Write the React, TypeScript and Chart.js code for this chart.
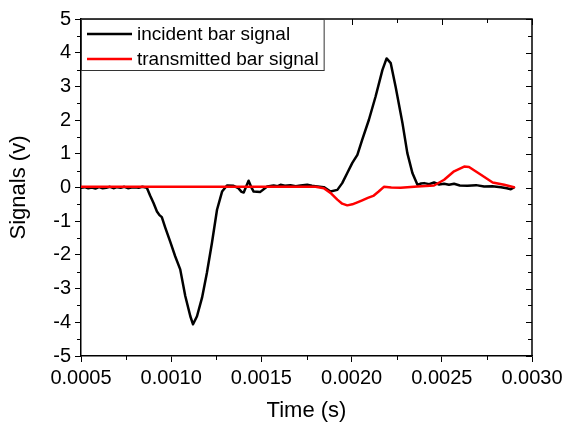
import { useEffect, useRef } from "react";
import { Chart, registerables } from "chart.js";

Chart.register(...registerables);

const FONT = "'Liberation Sans', Arial, Helvetica, sans-serif";

// Incident bar strain-gauge signal (time in s, signal in V)
const incidentTime = [
  0.0005, 0.00052, 0.00054, 0.00056, 0.00058, 0.0006, 0.00062, 0.00064, 0.00066, 0.00068,
  0.0007, 0.00072, 0.00074, 0.00076, 0.00078, 0.0008, 0.00082, 0.00084, 0.000865, 0.000883,
  0.000902, 0.000921, 0.000935, 0.000948, 0.000967, 0.000994, 0.001022, 0.00105, 0.001078, 0.001106,
  0.001121, 0.001143, 0.001171, 0.001198, 0.001226, 0.001254, 0.001282, 0.001309, 0.001346, 0.001372,
  0.00139, 0.001402, 0.001415, 0.001429, 0.001443, 0.001457, 0.001494, 0.001532, 0.001568, 0.00159,
  0.001606, 0.00163, 0.001661, 0.00169, 0.001717, 0.001754, 0.00178, 0.0018, 0.001846, 0.001883,
  0.001921, 0.001948, 0.001976, 0.002004, 0.002032, 0.002059, 0.002096, 0.002133, 0.002171, 0.002194,
  0.002217, 0.002244, 0.002282, 0.002309, 0.002337, 0.002365, 0.002385, 0.002402, 0.00243, 0.002457,
  0.002485, 0.002513, 0.00254, 0.002568, 0.0026, 0.002643, 0.00269, 0.002735, 0.00278, 0.002828,
  0.00286, 0.002883, 0.0029,
];
const incidentSignal = [
  -0.01, 0.01, -0.02, 0.0, -0.03, 0.01, -0.02, -0.01, 0.02, -0.02,
  0.01, -0.01, 0.02, -0.02, 0.0, 0.01, -0.01, 0.02, -0.01, -0.24,
  -0.46, -0.71, -0.82, -0.88, -1.19, -1.6, -2.04, -2.43, -3.22, -3.82,
  -4.06, -3.82, -3.27, -2.53, -1.64, -0.66, -0.12, 0.06, 0.05, -0.02,
  -0.13, -0.15, 0.02, 0.2, 0.02, -0.12, -0.13, 0.03, 0.06, 0.04,
  0.08, 0.05, 0.07, 0.04, 0.06, 0.08, 0.05, 0.04, 0.01, -0.12,
  -0.07, 0.13, 0.43, 0.73, 0.97, 1.42, 2.01, 2.7, 3.49, 3.83,
  3.69, 2.99, 1.91, 1.02, 0.43, 0.08, 0.12, 0.13, 0.1, 0.15,
  0.09, 0.11, 0.08, 0.11, 0.06, 0.05, 0.07, 0.03, 0.04, 0.01,
  -0.02, -0.05, 0.0,
];

// Transmitted bar strain-gauge signal
const transmittedTime = [
  0.0005, 0.0008, 0.0011, 0.0014, 0.0017, 0.0018, 0.001846, 0.001883, 0.001921, 0.001948,
  0.001976, 0.002004, 0.002032, 0.002059, 0.00209, 0.00212, 0.00215, 0.002179, 0.00222, 0.002272,
  0.002365, 0.002457, 0.002513, 0.002568, 0.002624, 0.002651, 0.002717, 0.002782, 0.002846, 0.0029,
];
const transmittedSignal = [
  0.02, 0.02, 0.02, 0.02, 0.02, 0.02, -0.02, -0.16, -0.36, -0.48,
  -0.53, -0.5, -0.44, -0.38, -0.31, -0.25, -0.12, 0.02, 0.0, -0.01,
  0.03, 0.06, 0.23, 0.48, 0.62, 0.61, 0.38, 0.15, 0.08, 0.01,
];

const xTicks = [0.0005, 0.001, 0.0015, 0.002, 0.0025, 0.003];
const yTicks = [-5, -4, -3, -2, -1, 0, 1, 2, 3, 4, 5];
const seriesNames = ["incident bar signal", "transmitted bar signal"];
const seriesColors = ["#000000", "#ff0000"];
const xTitle = "Time (s)";
const yTitle = "Signals (v)";

const toPoints = (xs: number[], ys: number[]) => xs.map((x, i) => ({ x, y: ys[i] }));

const midpoints = (vals: number[]) => vals.slice(1).map((v, i) => (v + vals[i]) / 2);

// Closed frame, mirrored/minor ticks and the inset legend
const framePlugin = {
  id: "frame",
  afterDraw(chart: any) {
    const { ctx, chartArea: a, scales } = chart;
    const xs = scales.x;
    const ys = scales.y;
    ctx.save();
    ctx.strokeStyle = "#000";
    ctx.lineWidth = 1.5;
    ctx.beginPath();
    ctx.moveTo(a.left, a.top);
    ctx.lineTo(a.right, a.top);
    ctx.lineTo(a.right, a.bottom);
    ctx.stroke();

    ctx.lineWidth = 1;
    ctx.beginPath();
    for (const t of xTicks) {
      const px = Math.round(xs.getPixelForValue(t)) + 0.5;
      ctx.moveTo(px, a.top);
      ctx.lineTo(px, a.top + 6);
    }
    for (const t of midpoints(xTicks)) {
      const px = Math.round(xs.getPixelForValue(t)) + 0.5;
      ctx.moveTo(px, a.bottom);
      ctx.lineTo(px, a.bottom + 4);
      ctx.moveTo(px, a.top);
      ctx.lineTo(px, a.top + 4);
    }
    for (const v of yTicks) {
      const py = Math.round(ys.getPixelForValue(v)) + 0.5;
      ctx.moveTo(a.right, py);
      ctx.lineTo(a.right - 6, py);
    }
    for (const v of midpoints(yTicks)) {
      const py = Math.round(ys.getPixelForValue(v)) + 0.5;
      ctx.moveTo(a.left, py);
      ctx.lineTo(a.left - 4, py);
      ctx.moveTo(a.right, py);
      ctx.lineTo(a.right - 4, py);
    }
    ctx.stroke();

    // legend
    ctx.font = `19px ${FONT}`;
    const textW = Math.max(...seriesNames.map((n) => ctx.measureText(n).width));
    const bx = a.left + 0.5;
    const by = a.top + 0.5;
    const bw = 56 + textW + 5;
    const bh = 51;
    ctx.fillStyle = "#fff";
    ctx.fillRect(bx, by, bw, bh);
    ctx.strokeStyle = "#333";
    ctx.lineWidth = 1;
    ctx.strokeRect(bx, by, bw, bh);
    seriesNames.forEach((name, i) => {
      const ly = a.top + 15 + i * 25;
      ctx.strokeStyle = seriesColors[i];
      ctx.lineWidth = 2.5;
      ctx.beginPath();
      ctx.moveTo(a.left + 6, ly);
      ctx.lineTo(a.left + 51, ly);
      ctx.stroke();
      ctx.fillStyle = "#000";
      ctx.textAlign = "left";
      ctx.textBaseline = "middle";
      ctx.fillText(name, a.left + 56, ly + 1);
    });
    ctx.restore();
  },
};

export default function App() {
  const canvasRef = useRef<HTMLCanvasElement | null>(null);

  useEffect(() => {
    const canvas = canvasRef.current;
    if (!canvas) return;
    const lineStyle = {
      borderWidth: 2.5,
      pointRadius: 0,
      tension: 0,
      borderJoinStyle: "round" as const,
      borderCapStyle: "round" as const,
    };
    const chart = new Chart(canvas, {
      type: "line",
      data: {
        datasets: [
          {
            label: seriesNames[1],
            data: toPoints(transmittedTime, transmittedSignal),
            borderColor: seriesColors[1],
            order: 0,
            ...lineStyle,
          },
          {
            label: seriesNames[0],
            data: toPoints(incidentTime, incidentSignal),
            borderColor: seriesColors[0],
            order: 1,
            ...lineStyle,
          },
        ],
      },
      options: {
        responsive: false,
        animation: false,
        devicePixelRatio: 1,
        layout: { padding: { left: 0, top: 19, right: 35, bottom: 0 } },
        plugins: { legend: { display: false }, tooltip: { enabled: false } },
        scales: {
          x: {
            type: "linear",
            min: xTicks[0],
            max: xTicks[xTicks.length - 1],
            afterBuildTicks: (s: any) => {
              s.ticks = xTicks.map((value) => ({ value }));
            },
            afterFit: (s: any) => {
              s.height = 68;
            },
            ticks: {
              autoSkip: false,
              maxRotation: 0,
              padding: 4,
              color: "#000",
              font: { family: FONT, size: 20 },
              callback: (v: any) => Number(v).toFixed(4),
            },
            grid: {
              drawOnChartArea: false,
              drawTicks: true,
              tickLength: 6,
              tickColor: "#000",
              tickWidth: 1,
            },
            border: { display: true, color: "#000", width: 1.5 },
            title: {
              display: true,
              text: xTitle,
              color: "#000",
              font: { family: FONT, size: 22 },
              padding: { top: 0, bottom: 0 },
            },
          },
          y: {
            type: "linear",
            min: yTicks[0],
            max: yTicks[yTicks.length - 1],
            afterBuildTicks: (s: any) => {
              s.ticks = yTicks.map((value) => ({ value }));
            },
            afterFit: (s: any) => {
              s.width = 81;
            },
            ticks: {
              padding: 4,
              color: "#000",
              font: { family: FONT, size: 20 },
              callback: (v: any) => String(v),
            },
            grid: {
              drawOnChartArea: false,
              drawTicks: true,
              tickLength: 6,
              tickColor: "#000",
              tickWidth: 1,
            },
            border: { display: true, color: "#000", width: 1.5 },
            title: {
              display: true,
              text: yTitle,
              color: "#000",
              font: { family: FONT, size: 22 },
              padding: { top: 6, bottom: 0 },
            },
          },
        },
      },
      plugins: [framePlugin],
    });
    return () => chart.destroy();
  }, []);

  return (
    <div style={{ position: "fixed", left: 0, top: 0, width: 567, height: 424, background: "#fff" }}>
      <canvas ref={canvasRef} width={567} height={424} />
    </div>
  );
}
